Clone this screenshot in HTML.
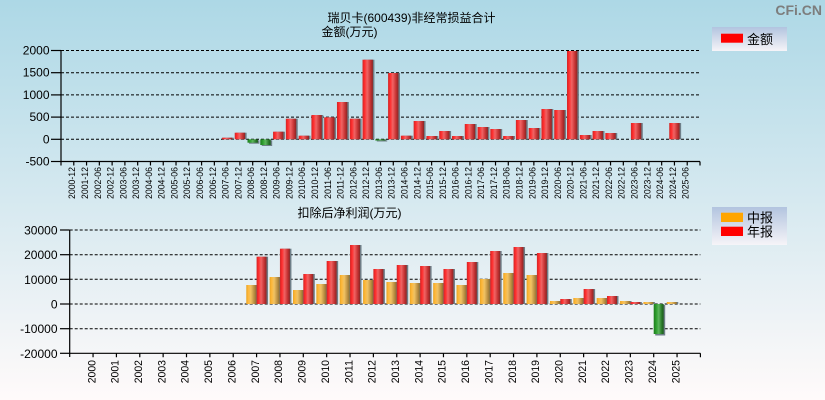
<!DOCTYPE html>
<html><head><meta charset="utf-8"><style>
html,body{margin:0;padding:0;width:825px;height:400px;overflow:hidden;}
svg{display:block;}
text{font-family:"Liberation Sans","Noto Sans CJK SC",sans-serif;fill:#000;}
</style></head><body>
<svg width="825" height="400" viewBox="0 0 825 400" xmlns="http://www.w3.org/2000/svg">
<defs>
<linearGradient id="bg" x1="0" y1="0" x2="0" y2="1">
<stop offset="0" stop-color="#add8e6"/><stop offset="1" stop-color="#fffafa"/>
</linearGradient>
<linearGradient id="lg" x1="0" y1="0" x2="0" y2="1">
<stop offset="0" stop-color="#b2c4df"/><stop offset="1" stop-color="#f6f4f8"/>
</linearGradient>
<linearGradient id="gr" x1="0" y1="0" x2="1" y2="0">
<stop offset="0" stop-color="#d02626"/><stop offset="0.2" stop-color="#ff2c2c"/><stop offset="0.45" stop-color="#f06464"/><stop offset="0.75" stop-color="#c83434"/><stop offset="1" stop-color="#8a2424"/>
</linearGradient>
<linearGradient id="go" x1="0" y1="0" x2="1" y2="0">
<stop offset="0" stop-color="#e8a424"/><stop offset="0.2" stop-color="#ffb83a"/><stop offset="0.45" stop-color="#f0c264"/><stop offset="0.75" stop-color="#c09444"/><stop offset="1" stop-color="#8e7034"/>
</linearGradient>
<linearGradient id="gg" x1="0" y1="0" x2="1" y2="0">
<stop offset="0" stop-color="#1c7c1c"/><stop offset="0.25" stop-color="#2e9e2e"/><stop offset="0.5" stop-color="#5cb65c"/><stop offset="0.8" stop-color="#2a7a2a"/><stop offset="1" stop-color="#1a5a1a"/>
</linearGradient>
</defs>
<rect x="0" y="0" width="825" height="400" fill="url(#bg)"/>

<!-- watermark -->
<text x="822" y="15" text-anchor="end" font-size="14" font-weight="bold" style="fill:#7d7d7d">CFi.CN</text>

<!-- TOP CHART titles -->
<text x="411.5" y="22" text-anchor="middle" font-size="12">瑞贝卡(600439)非经常损益合计</text>
<text x="321.5" y="36" font-size="12">金额(万元)</text>

<!-- top legend -->
<rect x="712" y="27" width="75" height="24" fill="url(#lg)"/>
<rect x="721" y="33.7" width="22" height="9" fill="#ff0000"/>
<text x="747" y="44" font-size="13">金额</text>

<!-- top gridlines -->
<g stroke="#000" stroke-width="1" stroke-dasharray="3,2">
<line x1="61" y1="50.5" x2="700" y2="50.5"/>
<line x1="61" y1="72.7" x2="700" y2="72.7"/>
<line x1="61" y1="94.9" x2="700" y2="94.9"/>
<line x1="61" y1="117.1" x2="700" y2="117.1"/>
<line x1="61" y1="139.3" x2="700" y2="139.3"/>
</g>

<!-- top bars -->
<g fill="#6f7f88">
<rect x="223.44" y="137.7" width="10.4" height="1.6"/>
<rect x="236.22" y="132.7" width="10.4" height="6.6"/>
<rect x="249" y="140.3" width="10.4" height="3.4"/>
<rect x="261.78" y="140.3" width="10.4" height="5.7"/>
<rect x="274.56" y="131.7" width="10.4" height="7.6"/>
<rect x="287.34" y="118.7" width="10.4" height="20.6"/>
<rect x="300.12" y="135.7" width="10.4" height="3.6"/>
<rect x="312.9" y="115" width="10.4" height="24.3"/>
<rect x="325.68" y="117.3" width="10.4" height="22"/>
<rect x="338.46" y="102" width="10.4" height="37.3"/>
<rect x="351.24" y="118.7" width="10.4" height="20.6"/>
<rect x="364.02" y="59.7" width="10.4" height="79.6"/>
<rect x="376.8" y="140.3" width="10.4" height="1.2"/>
<rect x="389.58" y="73" width="10.4" height="66.3"/>
<rect x="402.36" y="135.7" width="10.4" height="3.6"/>
<rect x="415.14" y="121" width="10.4" height="18.3"/>
<rect x="427.92" y="136" width="10.4" height="3.3"/>
<rect x="440.7" y="131" width="10.4" height="8.3"/>
<rect x="453.48" y="136" width="10.4" height="3.3"/>
<rect x="466.26" y="124" width="10.4" height="15.3"/>
<rect x="479.04" y="127" width="10.4" height="12.3"/>
<rect x="491.82" y="129" width="10.4" height="10.3"/>
<rect x="504.6" y="136" width="10.4" height="3.3"/>
<rect x="517.38" y="120" width="10.4" height="19.3"/>
<rect x="530.16" y="128" width="10.4" height="11.3"/>
<rect x="542.94" y="109" width="10.4" height="30.3"/>
<rect x="555.72" y="110" width="10.4" height="29.3"/>
<rect x="568.5" y="51" width="10.4" height="88.3"/>
<rect x="581.28" y="135" width="10.4" height="4.3"/>
<rect x="594.06" y="131" width="10.4" height="8.3"/>
<rect x="606.84" y="133" width="10.4" height="6.3"/>
<rect x="632.4" y="123" width="10.4" height="16.3"/>
<rect x="670.74" y="123" width="10.4" height="16.3"/>
</g>
<g fill="url(#gr)">
<rect x="221.94" y="137.7" width="10.4" height="1.6"/>
<rect x="234.72" y="132.7" width="10.4" height="6.6"/>
<rect x="273.06" y="131.7" width="10.4" height="7.6"/>
<rect x="285.84" y="118.7" width="10.4" height="20.6"/>
<rect x="298.62" y="135.7" width="10.4" height="3.6"/>
<rect x="311.4" y="115" width="10.4" height="24.3"/>
<rect x="324.18" y="117.3" width="10.4" height="22"/>
<rect x="336.96" y="102" width="10.4" height="37.3"/>
<rect x="349.74" y="118.7" width="10.4" height="20.6"/>
<rect x="362.52" y="59.7" width="10.4" height="79.6"/>
<rect x="388.08" y="73" width="10.4" height="66.3"/>
<rect x="400.86" y="135.7" width="10.4" height="3.6"/>
<rect x="413.64" y="121" width="10.4" height="18.3"/>
<rect x="426.42" y="136" width="10.4" height="3.3"/>
<rect x="439.2" y="131" width="10.4" height="8.3"/>
<rect x="451.98" y="136" width="10.4" height="3.3"/>
<rect x="464.76" y="124" width="10.4" height="15.3"/>
<rect x="477.54" y="127" width="10.4" height="12.3"/>
<rect x="490.32" y="129" width="10.4" height="10.3"/>
<rect x="503.1" y="136" width="10.4" height="3.3"/>
<rect x="515.88" y="120" width="10.4" height="19.3"/>
<rect x="528.66" y="128" width="10.4" height="11.3"/>
<rect x="541.44" y="109" width="10.4" height="30.3"/>
<rect x="554.22" y="110" width="10.4" height="29.3"/>
<rect x="567" y="51" width="10.4" height="88.3"/>
<rect x="579.78" y="135" width="10.4" height="4.3"/>
<rect x="592.56" y="131" width="10.4" height="8.3"/>
<rect x="605.34" y="133" width="10.4" height="6.3"/>
<rect x="630.9" y="123" width="10.4" height="16.3"/>
<rect x="669.24" y="123" width="10.4" height="16.3"/>
</g>
<g fill="url(#gg)">
<rect x="247.5" y="139.3" width="10.4" height="3.4"/>
<rect x="260.28" y="139.3" width="10.4" height="5.7"/>
<rect x="375.3" y="139.3" width="10.4" height="1.2"/>
</g>

<!-- top axes -->
<g stroke="#000" stroke-width="1.2" fill="none">
<line x1="61" y1="50.5" x2="61" y2="165.5"/>
<line x1="61" y1="161.5" x2="700" y2="161.5"/>
<line x1="51" y1="50.5" x2="61" y2="50.5"/>
<line x1="51" y1="72.7" x2="61" y2="72.7"/>
<line x1="51" y1="94.9" x2="61" y2="94.9"/>
<line x1="51" y1="117.1" x2="61" y2="117.1"/>
<line x1="51" y1="139.3" x2="61" y2="139.3"/>
<line x1="51" y1="161.5" x2="61" y2="161.5"/>
<path d="M73.78 161.5v4M86.56 161.5v4M99.34 161.5v4M112.12 161.5v4M124.9 161.5v4M137.68 161.5v4M150.46 161.5v4M163.24 161.5v4M176.02 161.5v4M188.8 161.5v4M201.58 161.5v4M214.36 161.5v4M227.14 161.5v4M239.92 161.5v4M252.7 161.5v4M265.48 161.5v4M278.26 161.5v4M291.04 161.5v4M303.82 161.5v4M316.6 161.5v4M329.38 161.5v4M342.16 161.5v4M354.94 161.5v4M367.72 161.5v4M380.5 161.5v4M393.28 161.5v4M406.06 161.5v4M418.84 161.5v4M431.62 161.5v4M444.4 161.5v4M457.18 161.5v4M469.96 161.5v4M482.74 161.5v4M495.52 161.5v4M508.3 161.5v4M521.08 161.5v4M533.86 161.5v4M546.64 161.5v4M559.42 161.5v4M572.2 161.5v4M584.98 161.5v4M597.76 161.5v4M610.54 161.5v4M623.32 161.5v4M636.1 161.5v4M648.88 161.5v4M661.66 161.5v4M674.44 161.5v4M687.22 161.5v4M700 161.5v4"/>
</g>

<!-- top y labels -->
<g font-size="12" text-anchor="end">
<text x="49.5" y="54.5">2000</text>
<text x="49.5" y="76.7">1500</text>
<text x="49.5" y="98.9">1000</text>
<text x="49.5" y="121.1">500</text>
<text x="49.5" y="143.3">0</text>
<text x="49.5" y="165.5">-500</text>
</g>

<!-- top x labels -->
<g font-size="9" text-anchor="end">
<text transform="translate(75.2,167) rotate(-90)" textLength="32" lengthAdjust="spacingAndGlyphs">2000-12</text>
<text transform="translate(87.98,167) rotate(-90)" textLength="32" lengthAdjust="spacingAndGlyphs">2001-12</text>
<text transform="translate(100.76,167) rotate(-90)" textLength="32" lengthAdjust="spacingAndGlyphs">2002-06</text>
<text transform="translate(113.54,167) rotate(-90)" textLength="32" lengthAdjust="spacingAndGlyphs">2002-12</text>
<text transform="translate(126.32,167) rotate(-90)" textLength="32" lengthAdjust="spacingAndGlyphs">2003-06</text>
<text transform="translate(139.1,167) rotate(-90)" textLength="32" lengthAdjust="spacingAndGlyphs">2003-12</text>
<text transform="translate(151.88,167) rotate(-90)" textLength="32" lengthAdjust="spacingAndGlyphs">2004-06</text>
<text transform="translate(164.66,167) rotate(-90)" textLength="32" lengthAdjust="spacingAndGlyphs">2004-12</text>
<text transform="translate(177.44,167) rotate(-90)" textLength="32" lengthAdjust="spacingAndGlyphs">2005-06</text>
<text transform="translate(190.22,167) rotate(-90)" textLength="32" lengthAdjust="spacingAndGlyphs">2005-12</text>
<text transform="translate(203,167) rotate(-90)" textLength="32" lengthAdjust="spacingAndGlyphs">2006-06</text>
<text transform="translate(215.78,167) rotate(-90)" textLength="32" lengthAdjust="spacingAndGlyphs">2006-12</text>
<text transform="translate(228.56,167) rotate(-90)" textLength="32" lengthAdjust="spacingAndGlyphs">2007-06</text>
<text transform="translate(241.34,167) rotate(-90)" textLength="32" lengthAdjust="spacingAndGlyphs">2007-12</text>
<text transform="translate(254.12,167) rotate(-90)" textLength="32" lengthAdjust="spacingAndGlyphs">2008-06</text>
<text transform="translate(266.9,167) rotate(-90)" textLength="32" lengthAdjust="spacingAndGlyphs">2008-12</text>
<text transform="translate(279.68,167) rotate(-90)" textLength="32" lengthAdjust="spacingAndGlyphs">2009-06</text>
<text transform="translate(292.46,167) rotate(-90)" textLength="32" lengthAdjust="spacingAndGlyphs">2009-12</text>
<text transform="translate(305.24,167) rotate(-90)" textLength="32" lengthAdjust="spacingAndGlyphs">2010-06</text>
<text transform="translate(318.02,167) rotate(-90)" textLength="32" lengthAdjust="spacingAndGlyphs">2010-12</text>
<text transform="translate(330.8,167) rotate(-90)" textLength="32" lengthAdjust="spacingAndGlyphs">2011-06</text>
<text transform="translate(343.58,167) rotate(-90)" textLength="32" lengthAdjust="spacingAndGlyphs">2011-12</text>
<text transform="translate(356.36,167) rotate(-90)" textLength="32" lengthAdjust="spacingAndGlyphs">2012-06</text>
<text transform="translate(369.14,167) rotate(-90)" textLength="32" lengthAdjust="spacingAndGlyphs">2012-12</text>
<text transform="translate(381.92,167) rotate(-90)" textLength="32" lengthAdjust="spacingAndGlyphs">2013-06</text>
<text transform="translate(394.7,167) rotate(-90)" textLength="32" lengthAdjust="spacingAndGlyphs">2013-12</text>
<text transform="translate(407.48,167) rotate(-90)" textLength="32" lengthAdjust="spacingAndGlyphs">2014-06</text>
<text transform="translate(420.26,167) rotate(-90)" textLength="32" lengthAdjust="spacingAndGlyphs">2014-12</text>
<text transform="translate(433.04,167) rotate(-90)" textLength="32" lengthAdjust="spacingAndGlyphs">2015-06</text>
<text transform="translate(445.82,167) rotate(-90)" textLength="32" lengthAdjust="spacingAndGlyphs">2015-12</text>
<text transform="translate(458.6,167) rotate(-90)" textLength="32" lengthAdjust="spacingAndGlyphs">2016-06</text>
<text transform="translate(471.38,167) rotate(-90)" textLength="32" lengthAdjust="spacingAndGlyphs">2016-12</text>
<text transform="translate(484.16,167) rotate(-90)" textLength="32" lengthAdjust="spacingAndGlyphs">2017-06</text>
<text transform="translate(496.94,167) rotate(-90)" textLength="32" lengthAdjust="spacingAndGlyphs">2017-12</text>
<text transform="translate(509.72,167) rotate(-90)" textLength="32" lengthAdjust="spacingAndGlyphs">2018-06</text>
<text transform="translate(522.5,167) rotate(-90)" textLength="32" lengthAdjust="spacingAndGlyphs">2018-12</text>
<text transform="translate(535.28,167) rotate(-90)" textLength="32" lengthAdjust="spacingAndGlyphs">2019-06</text>
<text transform="translate(548.06,167) rotate(-90)" textLength="32" lengthAdjust="spacingAndGlyphs">2019-12</text>
<text transform="translate(560.84,167) rotate(-90)" textLength="32" lengthAdjust="spacingAndGlyphs">2020-06</text>
<text transform="translate(573.62,167) rotate(-90)" textLength="32" lengthAdjust="spacingAndGlyphs">2020-12</text>
<text transform="translate(586.4,167) rotate(-90)" textLength="32" lengthAdjust="spacingAndGlyphs">2021-06</text>
<text transform="translate(599.18,167) rotate(-90)" textLength="32" lengthAdjust="spacingAndGlyphs">2021-12</text>
<text transform="translate(611.96,167) rotate(-90)" textLength="32" lengthAdjust="spacingAndGlyphs">2022-06</text>
<text transform="translate(624.74,167) rotate(-90)" textLength="32" lengthAdjust="spacingAndGlyphs">2022-12</text>
<text transform="translate(637.52,167) rotate(-90)" textLength="32" lengthAdjust="spacingAndGlyphs">2023-06</text>
<text transform="translate(650.3,167) rotate(-90)" textLength="32" lengthAdjust="spacingAndGlyphs">2023-12</text>
<text transform="translate(663.08,167) rotate(-90)" textLength="32" lengthAdjust="spacingAndGlyphs">2024-06</text>
<text transform="translate(675.86,167) rotate(-90)" textLength="32" lengthAdjust="spacingAndGlyphs">2024-12</text>
<text transform="translate(688.64,167) rotate(-90)" textLength="32" lengthAdjust="spacingAndGlyphs">2025-06</text>
</g>

<!-- BOTTOM CHART -->
<text x="297.5" y="217" font-size="12">扣除后净利润(万元)</text>

<rect x="712" y="207" width="75" height="38" fill="url(#lg)"/>
<rect x="721" y="212.7" width="22" height="9.3" fill="#ffa500"/>
<rect x="721" y="226.7" width="22" height="9.3" fill="#ff0000"/>
<text x="747" y="222.5" font-size="13">中报</text>
<text x="747" y="236.5" font-size="13">年报</text>

<g stroke="#000" stroke-width="1" stroke-dasharray="3,2">
<line x1="69.7" y1="230" x2="700.4" y2="230"/>
<line x1="69.7" y1="254.7" x2="700.4" y2="254.7"/>
<line x1="69.7" y1="279.3" x2="700.4" y2="279.3"/>
<line x1="69.7" y1="304" x2="700.4" y2="304"/>
<line x1="69.7" y1="328.7" x2="700.4" y2="328.7"/>
</g>

<!-- bottom shadows -->
<g fill="#6f7f88">
<rect x="247.78" y="285" width="10" height="19"/><rect x="258.08" y="256.7" width="10" height="47.3"/>
<rect x="271.14" y="277" width="10" height="27"/><rect x="281.44" y="248.7" width="10" height="55.3"/>
<rect x="294.5" y="290" width="10" height="14"/><rect x="304.8" y="274" width="10" height="30"/>
<rect x="317.86" y="284" width="10" height="20"/><rect x="328.16" y="261" width="10" height="43"/>
<rect x="341.22" y="275" width="10" height="29"/><rect x="351.52" y="245" width="10" height="59"/>
<rect x="364.58" y="280" width="10" height="24"/><rect x="374.88" y="269" width="10" height="35"/>
<rect x="387.94" y="282" width="10" height="22"/><rect x="398.24" y="265" width="10" height="39"/>
<rect x="411.3" y="283" width="10" height="21"/><rect x="421.6" y="266" width="10" height="38"/>
<rect x="434.66" y="283" width="10" height="21"/><rect x="444.96" y="269" width="10" height="35"/>
<rect x="458.02" y="285" width="10" height="19"/><rect x="468.32" y="262" width="10" height="42"/>
<rect x="481.38" y="279" width="10" height="25"/><rect x="491.68" y="251" width="10" height="53"/>
<rect x="504.74" y="273" width="10" height="31"/><rect x="515.04" y="247" width="10" height="57"/>
<rect x="528.1" y="275" width="10" height="29"/><rect x="538.4" y="253" width="10" height="51"/>
<rect x="551.46" y="301" width="10" height="3"/><rect x="561.76" y="299" width="10" height="5"/>
<rect x="574.82" y="298" width="10" height="6"/><rect x="585.12" y="289" width="10" height="15"/>
<rect x="598.18" y="298" width="10" height="6"/><rect x="608.48" y="296" width="10" height="8"/>
<rect x="621.54" y="301" width="10" height="3"/><rect x="631.84" y="302" width="10" height="2"/>
<rect x="644.9" y="302" width="10" height="2"/><rect x="655.2" y="305" width="10" height="30.5"/>
<rect x="668.26" y="302" width="10" height="2"/>
</g>
<g fill="url(#go)">
<rect x="246.28" y="285" width="10" height="19"/>
<rect x="269.64" y="277" width="10" height="27"/>
<rect x="293" y="290" width="10" height="14"/>
<rect x="316.36" y="284" width="10" height="20"/>
<rect x="339.72" y="275" width="10" height="29"/>
<rect x="363.08" y="280" width="10" height="24"/>
<rect x="386.44" y="282" width="10" height="22"/>
<rect x="409.8" y="283" width="10" height="21"/>
<rect x="433.16" y="283" width="10" height="21"/>
<rect x="456.52" y="285" width="10" height="19"/>
<rect x="479.88" y="279" width="10" height="25"/>
<rect x="503.24" y="273" width="10" height="31"/>
<rect x="526.6" y="275" width="10" height="29"/>
<rect x="549.96" y="301" width="10" height="3"/>
<rect x="573.32" y="298" width="10" height="6"/>
<rect x="596.68" y="298" width="10" height="6"/>
<rect x="620.04" y="301" width="10" height="3"/>
<rect x="643.4" y="302" width="10" height="2"/>
<rect x="666.76" y="302" width="10" height="2"/>
</g>
<g fill="url(#gr)">
<rect x="256.58" y="256.7" width="10" height="47.3"/>
<rect x="279.94" y="248.7" width="10" height="55.3"/>
<rect x="303.3" y="274" width="10" height="30"/>
<rect x="326.66" y="261" width="10" height="43"/>
<rect x="350.02" y="245" width="10" height="59"/>
<rect x="373.38" y="269" width="10" height="35"/>
<rect x="396.74" y="265" width="10" height="39"/>
<rect x="420.1" y="266" width="10" height="38"/>
<rect x="443.46" y="269" width="10" height="35"/>
<rect x="466.82" y="262" width="10" height="42"/>
<rect x="490.18" y="251" width="10" height="53"/>
<rect x="513.54" y="247" width="10" height="57"/>
<rect x="536.9" y="253" width="10" height="51"/>
<rect x="560.26" y="299" width="10" height="5"/>
<rect x="583.62" y="289" width="10" height="15"/>
<rect x="606.98" y="296" width="10" height="8"/>
<rect x="630.34" y="302" width="10" height="2"/>
</g>
<rect x="653.7" y="304" width="10" height="30" fill="url(#gg)"/>

<g stroke="#000" stroke-width="1.2" fill="none">
<line x1="69.7" y1="230" x2="69.7" y2="357"/>
<line x1="69.7" y1="353.3" x2="700.4" y2="353.3"/>
<line x1="60" y1="230" x2="69.7" y2="230"/>
<line x1="60" y1="254.7" x2="69.7" y2="254.7"/>
<line x1="60" y1="279.3" x2="69.7" y2="279.3"/>
<line x1="60" y1="304" x2="69.7" y2="304"/>
<line x1="60" y1="328.7" x2="69.7" y2="328.7"/>
<line x1="60" y1="353.3" x2="69.7" y2="353.3"/>
<path d="M93.06 353.3v4M116.42 353.3v4M139.78 353.3v4M163.14 353.3v4M186.5 353.3v4M209.86 353.3v4M233.22 353.3v4M256.58 353.3v4M279.94 353.3v4M303.3 353.3v4M326.66 353.3v4M350.02 353.3v4M373.38 353.3v4M396.74 353.3v4M420.1 353.3v4M443.46 353.3v4M466.82 353.3v4M490.18 353.3v4M513.54 353.3v4M536.9 353.3v4M560.26 353.3v4M583.62 353.3v4M606.98 353.3v4M630.34 353.3v4M653.7 353.3v4M677.06 353.3v4M700.4 353.3v4"/>
</g>

<g font-size="12" text-anchor="end">
<text x="57.5" y="234.5">30000</text>
<text x="57.5" y="259.2">20000</text>
<text x="57.5" y="283.8">10000</text>
<text x="57.5" y="308.5">0</text>
<text x="57.5" y="333.2">-10000</text>
<text x="57.5" y="357.8">-20000</text>
</g>

<g font-size="11" text-anchor="end">
<text transform="translate(95.3,360) rotate(-90)" textLength="23.3" lengthAdjust="spacingAndGlyphs">2000</text>
<text transform="translate(118.66,360) rotate(-90)" textLength="23.3" lengthAdjust="spacingAndGlyphs">2001</text>
<text transform="translate(142.02,360) rotate(-90)" textLength="23.3" lengthAdjust="spacingAndGlyphs">2002</text>
<text transform="translate(165.38,360) rotate(-90)" textLength="23.3" lengthAdjust="spacingAndGlyphs">2003</text>
<text transform="translate(188.74,360) rotate(-90)" textLength="23.3" lengthAdjust="spacingAndGlyphs">2004</text>
<text transform="translate(212.1,360) rotate(-90)" textLength="23.3" lengthAdjust="spacingAndGlyphs">2005</text>
<text transform="translate(235.46,360) rotate(-90)" textLength="23.3" lengthAdjust="spacingAndGlyphs">2006</text>
<text transform="translate(258.82,360) rotate(-90)" textLength="23.3" lengthAdjust="spacingAndGlyphs">2007</text>
<text transform="translate(282.18,360) rotate(-90)" textLength="23.3" lengthAdjust="spacingAndGlyphs">2008</text>
<text transform="translate(305.54,360) rotate(-90)" textLength="23.3" lengthAdjust="spacingAndGlyphs">2009</text>
<text transform="translate(328.9,360) rotate(-90)" textLength="23.3" lengthAdjust="spacingAndGlyphs">2010</text>
<text transform="translate(352.26,360) rotate(-90)" textLength="23.3" lengthAdjust="spacingAndGlyphs">2011</text>
<text transform="translate(375.62,360) rotate(-90)" textLength="23.3" lengthAdjust="spacingAndGlyphs">2012</text>
<text transform="translate(398.98,360) rotate(-90)" textLength="23.3" lengthAdjust="spacingAndGlyphs">2013</text>
<text transform="translate(422.34,360) rotate(-90)" textLength="23.3" lengthAdjust="spacingAndGlyphs">2014</text>
<text transform="translate(445.7,360) rotate(-90)" textLength="23.3" lengthAdjust="spacingAndGlyphs">2015</text>
<text transform="translate(469.06,360) rotate(-90)" textLength="23.3" lengthAdjust="spacingAndGlyphs">2016</text>
<text transform="translate(492.42,360) rotate(-90)" textLength="23.3" lengthAdjust="spacingAndGlyphs">2017</text>
<text transform="translate(515.78,360) rotate(-90)" textLength="23.3" lengthAdjust="spacingAndGlyphs">2018</text>
<text transform="translate(539.14,360) rotate(-90)" textLength="23.3" lengthAdjust="spacingAndGlyphs">2019</text>
<text transform="translate(562.5,360) rotate(-90)" textLength="23.3" lengthAdjust="spacingAndGlyphs">2020</text>
<text transform="translate(585.86,360) rotate(-90)" textLength="23.3" lengthAdjust="spacingAndGlyphs">2021</text>
<text transform="translate(609.22,360) rotate(-90)" textLength="23.3" lengthAdjust="spacingAndGlyphs">2022</text>
<text transform="translate(632.58,360) rotate(-90)" textLength="23.3" lengthAdjust="spacingAndGlyphs">2023</text>
<text transform="translate(655.94,360) rotate(-90)" textLength="23.3" lengthAdjust="spacingAndGlyphs">2024</text>
<text transform="translate(679.3,360) rotate(-90)" textLength="23.3" lengthAdjust="spacingAndGlyphs">2025</text>
</g>
</svg>
</body></html>
